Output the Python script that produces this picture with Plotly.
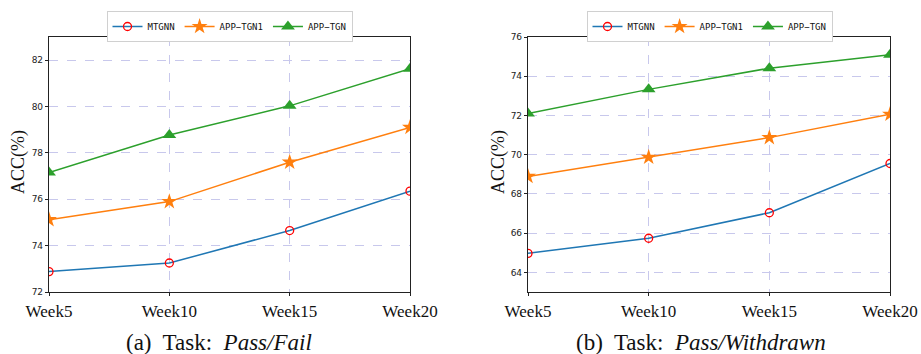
import plotly.graph_objects as go

weeks = ["Week5", "Week10", "Week15", "Week20"]

# Panel (a): Pass/Fail
pf_mtgnn = [72.88, 73.25, 74.65, 76.35]
pf_app_tgn1 = [75.12, 75.90, 77.60, 79.10]
pf_app_tgn = [77.15, 78.77, 80.03, 81.63]

# Panel (b): Pass/Withdrawn
pw_mtgnn = [64.97, 65.74, 67.04, 69.55]
pw_app_tgn1 = [68.89, 69.87, 70.87, 72.06]
pw_app_tgn = [72.10, 73.33, 74.41, 75.10]

series_names = ["MTGNN", "APP\u2212TGN1", "APP\u2212TGN"]
colors = ["#1f77b4", "#ff7f0e", "#2ca02c"]

# page body margin is removed by post_script, so screen px == figure px
FW, FH = 921, 354


def px(sx):
    return sx / FW


def py(sy):
    return 1 - sy / FH


fig = go.Figure()


def add_panel(vals, xa, ya, legend):
    styles = [
        dict(symbol="circle-open", size=8, color="red", line=dict(width=1.3, color="red")),
        dict(symbol="star", size=12, color=colors[1], line=dict(width=0)),
        dict(symbol="triangle-up", size=12, color=colors[2], line=dict(width=0)),
    ]
    for name, v, c, m in zip(series_names, vals, colors, styles):
        fig.add_trace(go.Scatter(
            x=weeks, y=v, name=name, mode="lines+markers",
            line=dict(color=c, width=1.5), marker=m,
            xaxis=xa, yaxis=ya, legend=legend, cliponaxis=True,
        ))


add_panel([pf_mtgnn, pf_app_tgn1, pf_app_tgn], "x", "y", "legend")
add_panel([pw_mtgnn, pw_app_tgn1, pw_app_tgn], "x2", "y2", "legend2")

y_dom = [py(292), py(37)]
axis_common = dict(
    showline=True, linecolor="#222", linewidth=1.2, mirror=True,
    showgrid=True, gridcolor="#c8c8ec", griddash="dash", gridwidth=1,
    ticks="outside", ticklen=3, tickcolor="#222", zeroline=False,
    automargin=False,
)
xfont = dict(family="Liberation Serif", size=17, color="#111")
yfont = dict(family="DejaVu Sans", size=9, color="#222")
legend_common = dict(
    orientation="h", xanchor="center", y=py(11), yanchor="top",
    bordercolor="#d0d0d0", borderwidth=1, bgcolor="white",
    font=dict(family="DejaVu Sans Mono", size=9, color="#111"),
    itemwidth=30, tracegroupgap=0,
)
fig.update_layout(
    width=FW, height=FH,
    margin=dict(l=0, r=0, t=0, b=0, autoexpand=False),
    paper_bgcolor="white", plot_bgcolor="white",
    xaxis=dict(domain=[px(49), px(410)], type="category", range=[0, 3],
               tickfont=xfont, anchor="y", **axis_common),
    yaxis=dict(domain=y_dom, range=[72, 83], tickvals=[72, 74, 76, 78, 80, 82],
               tickfont=yfont, anchor="x", **axis_common),
    xaxis2=dict(domain=[px(528), px(890)], type="category", range=[0, 3],
                tickfont=xfont, anchor="y2", **axis_common),
    yaxis2=dict(domain=y_dom, range=[63, 76], tickvals=[64, 66, 68, 70, 72, 74, 76],
                tickfont=yfont, anchor="x2", **axis_common),
    legend=dict(x=px(229.5), **legend_common),
    legend2=dict(x=px(709.5), **legend_common),
    showlegend=True,
)

ylab_font = dict(family="Liberation Serif", size=18, color="#111")
cap_font = dict(family="Liberation Serif", size=23, color="#111")
annos = [
    dict(x=px(18.5), y=py(162.5), text="ACC(%)", textangle=-90, font=ylab_font),
    dict(x=px(498.5), y=py(162.5), text="ACC(%)", textangle=-90, font=ylab_font),
    dict(x=px(218.5), y=py(342), text="(a)&nbsp; Task:&nbsp; <i>Pass/Fail</i>", font=cap_font),
    dict(x=px(700.5), y=py(342), text="(b)&nbsp; Task:&nbsp; <i>Pass/Withdrawn</i>", font=cap_font),
]
for a in annos:
    fig.add_annotation(xref="paper", yref="paper", showarrow=False,
                       xanchor="center", yanchor="middle", **a)

fig.write_html(
    "out.html",
    config={"displayModeBar": False},
    post_script="document.body.style.margin='0';document.body.style.overflow='hidden';",
)
